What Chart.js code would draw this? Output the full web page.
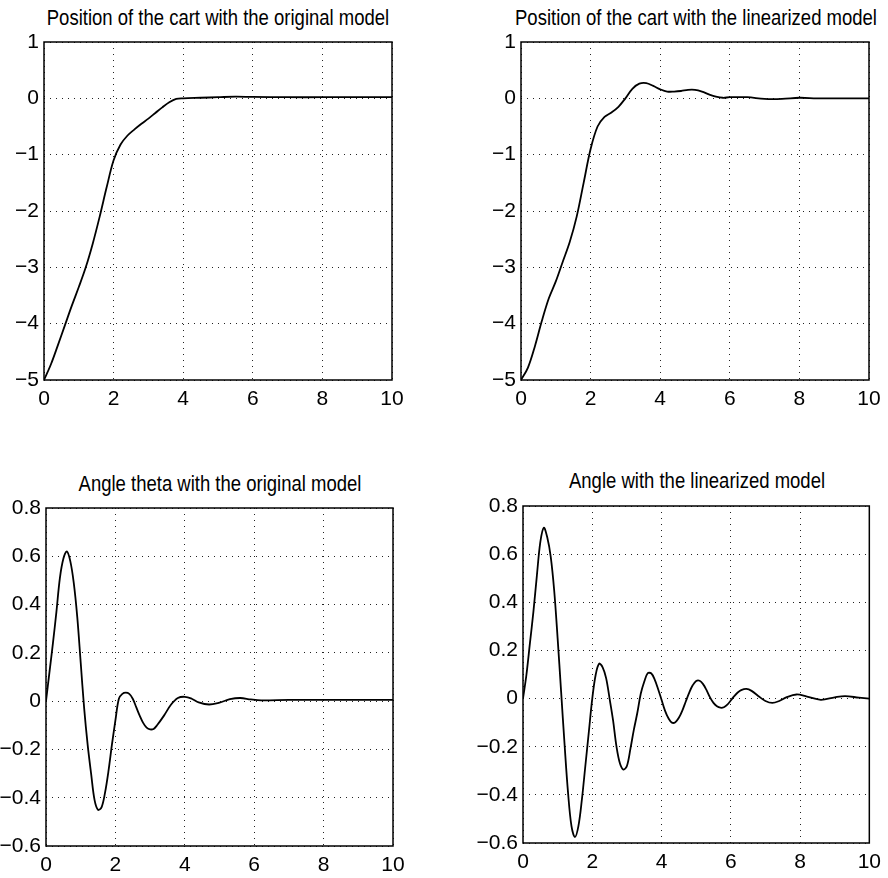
<!DOCTYPE html>
<html>
<head>
<meta charset="utf-8">
<script src="https://cdn.jsdelivr.net/npm/chart.js@4.4.0/dist/chart.umd.min.js"></script>
<style>
  html,body{margin:0;padding:0;background:#fff;}
  #wrap{position:relative;width:888px;height:878px;overflow:hidden;font-family:"Liberation Sans",Arial,Helvetica,sans-serif;}
  .cell{position:absolute;width:444px;height:439px;}
  .ttl{position:absolute;font-size:18.5px;line-height:18px;white-space:nowrap;color:#000;transform:translateX(-50%) scaleY(1.2);}
</style>
</head>
<body>
<div id="wrap">
  <div class="ttl" style="left:218px;top:9px">Position of the cart with the original model</div>
  <div class="ttl" style="left:696px;top:9px">Position of the cart with the linearized model</div>
  <div class="ttl" style="left:220px;top:475px">Angle theta with the original model</div>
  <div class="ttl" style="left:697px;top:472px">Angle with the linearized model</div>
  <canvas id="c1" class="cell" width="444" height="439" style="left:0;top:0"></canvas>
  <canvas id="c2" class="cell" width="444" height="439" style="left:444px;top:0"></canvas>
  <canvas id="c3" class="cell" width="444" height="439" style="left:0;top:439px"></canvas>
  <canvas id="c4" class="cell" width="444" height="439" style="left:444px;top:439px"></canvas>
</div>
<script>
// tick values + labels
const timeTicks = [0,2,4,6,8,10];
const timeTickLabels = ['0','2','4','6','8','10'];
const posTicks = [-5,-4,-3,-2,-1,0,1];
const posTickLabels = ['\u22125','\u22124','\u22123','\u22122','\u22121','0','1'];
const angTicks = [-0.6,-0.4,-0.2,0,0.2,0.4,0.6,0.8];
const angTickLabels = ['\u22120.6','\u22120.4','\u22120.2','0','0.2','0.4','0.6','0.8'];

// cart position, original model
const posOrigT = [0,0.2,0.4,0.6,0.8,1.0,1.2,1.4,1.6,1.8,2.0,2.2,2.4,2.6,2.8,3.0,3.2,3.4,3.6,3.8,4.0,4.5,5.0,5.5,6.0,7.0,8.0,9.0,10];
const posOrigY = [-5,-4.72,-4.38,-4.03,-3.68,-3.35,-3.0,-2.58,-2.1,-1.58,-1.1,-0.82,-0.66,-0.55,-0.45,-0.36,-0.26,-0.16,-0.07,-0.01,0.0,0.01,0.02,0.03,0.025,0.02,0.02,0.02,0.02];

// cart position, linearized model
const posLinT = [0,0.2,0.4,0.6,0.8,1.0,1.2,1.4,1.6,1.8,2.0,2.2,2.4,2.6,2.8,3.0,3.2,3.4,3.6,3.8,4.0,4.2,4.4,4.6,4.8,5.0,5.2,5.4,5.6,5.8,6.0,6.5,7.0,7.5,8.0,8.5,9.0,10];
const posLinY = [-5,-4.78,-4.4,-3.95,-3.55,-3.25,-2.9,-2.55,-2.1,-1.5,-0.9,-0.5,-0.33,-0.25,-0.15,0.0,0.17,0.26,0.27,0.22,0.16,0.12,0.12,0.13,0.15,0.15,0.12,0.07,0.03,0.01,0.02,0.02,-0.01,-0.01,0.01,0.0,0.0,0.0];

// angle theta, original model
const angOrigT = [0,0.1,0.2,0.3,0.4,0.5,0.6,0.7,0.8,0.9,1.0,1.1,1.2,1.3,1.4,1.5,1.6,1.7,1.8,1.9,2.0,2.1,2.2,2.3,2.4,2.5,2.6,2.7,2.8,2.9,3.0,3.1,3.2,3.4,3.6,3.8,4.0,4.2,4.4,4.7,5.0,5.3,5.6,5.9,6.2,7.0,8.0,9.0,10];
const angOrigY = [0,0.12,0.24,0.37,0.51,0.59,0.62,0.58,0.49,0.35,0.16,-0.03,-0.18,-0.3,-0.41,-0.45,-0.44,-0.38,-0.29,-0.18,-0.08,0.01,0.03,0.035,0.03,0.01,-0.025,-0.06,-0.09,-0.11,-0.117,-0.115,-0.1,-0.06,-0.015,0.013,0.018,0.01,-0.005,-0.014,-0.006,0.008,0.013,0.007,0.003,0.005,0.005,0.005,0.005];

// angle, linearized model
const angLinT = [0,0.1,0.2,0.3,0.4,0.5,0.6,0.7,0.8,0.9,1.0,1.1,1.2,1.3,1.4,1.5,1.6,1.7,1.8,1.9,2.0,2.1,2.2,2.3,2.4,2.5,2.6,2.7,2.8,2.9,3.0,3.1,3.2,3.3,3.4,3.5,3.6,3.7,3.8,3.9,4.0,4.1,4.2,4.3,4.4,4.5,4.6,4.7,4.8,4.9,5.0,5.1,5.2,5.3,5.4,5.5,5.6,5.7,5.8,5.9,6.0,6.1,6.2,6.3,6.45,6.6,6.8,7.0,7.2,7.4,7.6,7.9,8.2,8.6,9.0,9.3,9.7,10];
const angLinY = [0,0.1,0.23,0.36,0.51,0.65,0.71,0.67,0.59,0.45,0.25,0.03,-0.19,-0.39,-0.53,-0.575,-0.53,-0.42,-0.28,-0.14,0.0,0.1,0.145,0.13,0.085,0.0,-0.09,-0.2,-0.27,-0.295,-0.28,-0.21,-0.13,-0.06,0.02,0.07,0.105,0.105,0.08,0.04,-0.005,-0.05,-0.082,-0.1,-0.098,-0.08,-0.05,-0.012,0.025,0.055,0.073,0.074,0.06,0.035,0.005,-0.018,-0.032,-0.038,-0.036,-0.025,-0.008,0.01,0.025,0.035,0.04,0.032,0.01,-0.01,-0.018,-0.01,0.005,0.017,0.008,-0.005,0.005,0.01,0.004,0];

const tickFont = {family:'"Liberation Sans", Arial, sans-serif', size:21};

// frame round the plot area
const boxPlugin = {
  id:'box',
  afterDraw(chart){
    const a = chart.chartArea, c = chart.ctx;
    c.save(); c.strokeStyle = '#000'; c.lineWidth = 1.5;
    c.strokeRect(a.left, a.top, a.right - a.left, a.bottom - a.top);
    c.restore();
  }
};

function makePlot(id, ts, ys, yTicks, yLabels, box){
  new Chart(document.getElementById(id), {
    type:'line',
    data:{ datasets:[{ data: ts.map((t,i)=>({x:t, y:ys[i]})), borderColor:'#000', borderWidth:1.8, pointRadius:0, tension:0.35, fill:false }]},
    options:{
      responsive:false, animation:false, events:[],
      layout:{ padding:{ left:0, top:box.top, right:box.right, bottom:box.bottom } },
      plugins:{ legend:{display:false}, tooltip:{enabled:false} },
      scales:{
        x:{
          type:'linear', min:0, max:10,
          afterBuildTicks: s => { s.ticks = timeTicks.map(v=>({value:v})); },
          afterFit: s => { s.height = 30; },
          ticks:{ callback:(v,i)=>timeTickLabels[i], font:tickFont, color:'#000', padding:7, maxRotation:0, autoSkip:false },
          grid:{ color:'#222', lineWidth:1, drawTicks:false },
          border:{ display:false, dash:[1,5] }
        },
        y:{
          type:'linear', min:yTicks[0], max:yTicks[yTicks.length-1],
          afterBuildTicks: s => { s.ticks = yTicks.map(v=>({value:v})); },
          afterFit: s => { s.width = box.left; },
          ticks:{ callback:(v,i)=>yLabels[i], font:tickFont, color:'#000', padding:5, autoSkip:false },
          grid:{ color:'#222', lineWidth:1, drawTicks:false },
          border:{ display:false, dash:[1,5] }
        }
      }
    },
    plugins:[boxPlugin]
  });
}

makePlot('c1', posOrigT, posOrigY, posTicks, posTickLabels, {left:44, top:42, right:52, bottom:29});
makePlot('c2', posLinT, posLinY, posTicks, posTickLabels, {left:77, top:42, right:19, bottom:29});
makePlot('c3', angOrigT, angOrigY, angTicks, angTickLabels, {left:46, top:69, right:51, bottom:2});
makePlot('c4', angLinT, angLinY, angTicks, angTickLabels, {left:79, top:67, right:18, bottom:5});
</script>
</body>
</html>
